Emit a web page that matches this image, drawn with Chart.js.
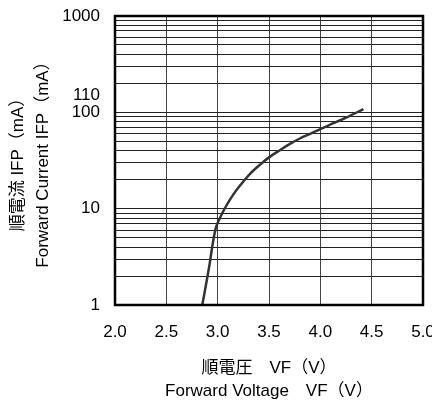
<!DOCTYPE html>
<html>
<head>
<meta charset="utf-8">
<script src="https://cdn.jsdelivr.net/npm/chart.js@4.4.0/dist/chart.umd.min.js"></script>
<style>
  html, body { margin: 0; padding: 0; background: #fff; }
  #wrap { width: 432px; height: 403px; }
</style>
</head>
<body>
<div id="wrap"><canvas id="grafico"></canvas></div>
<script>
// curva VF x IFP
const tensao = [2.85, 2.92, 2.95, 2.98, 3.02, 3.07, 3.15, 3.22, 3.32, 3.41, 3.51, 3.61, 3.70, 3.80, 3.90, 4.00, 4.09, 4.25, 4.42];
const corrente = [1, 2.6, 4.2, 6.2, 7.9, 10.1, 13.9, 17.5, 23.3, 28.5, 34.7, 40.7, 46.7, 53.5, 59.7, 67, 74, 88, 108];

// ticks do eixo y (linhas de grade em 1..9 de cada decada)
const yTicks = [1, 2, 3, 4, 5, 6, 7, 8, 9, 10, 20, 30, 40, 50, 60, 70, 80, 90,
  100, 200, 300, 400, 500, 600, 700, 800, 900, 1000];
const yLabels = { 1: '1', 10: '10', 100: ['110', '100', ''], 1000: '1000' };
const xMin = 2.0, xMax = 5.0, xStep = 0.5;

const fonte = '"Liberation Sans", "Noto Sans CJK JP", sans-serif';
const tituloX = ['順電圧　VF（V）', 'Forward Voltage　VF（V）'];
const tituloY = ['順電流 IFP（mA）', 'Forward Current IFP（mA）'];

// moldura preta em volta da area do grafico
const moldura = {
  id: 'moldura',
  afterDraw(chart) {
    const a = chart.chartArea;
    const ctx = chart.ctx;
    ctx.save();
    ctx.strokeStyle = '#000';
    ctx.lineWidth = 2.5;
    ctx.strokeRect(a.left, a.top, a.right - a.left, a.bottom - a.top);
    ctx.restore();
  }
};

const ctx = document.getElementById('grafico').getContext('2d');
new Chart(ctx, {
  type: 'line',
  data: {
    datasets: [{
      data: tensao.map((v, i) => ({ x: v, y: corrente[i] })),
      borderColor: '#333',
      borderWidth: 2.5,
      pointRadius: 0,
      cubicInterpolationMode: 'monotone',
      fill: false
    }]
  },
  options: {
    responsive: true,
    maintainAspectRatio: false,
    animation: false,
    layout: { padding: { top: 16, right: 9, left: 0, bottom: 0 } },
    plugins: { legend: { display: false }, tooltip: { enabled: false } },
    scales: {
      x: {
        type: 'linear',
        min: xMin,
        max: xMax,
        afterFit: (s) => { s.height = 98; s.paddingLeft = 0; s.paddingRight = 0; },
        afterBuildTicks: (s) => {
          const t = [];
          for (let v = xMin; v <= xMax + 1e-9; v += xStep) t.push({ value: +v.toFixed(2) });
          s.ticks = t;
        },
        grid: { color: '#444', lineWidth: 1, drawTicks: false },
        border: { display: false },
        ticks: {
          autoSkip: false,
          padding: 17,
          color: '#000',
          font: { family: fonte, size: 17 },
          callback: (v) => Number(v).toFixed(1)
        },
        title: {
          display: true,
          text: tituloX,
          color: '#000',
          font: { family: fonte, size: 17, lineHeight: 1.37 },
          padding: { top: 0, bottom: 0 }
        }
      },
      y: {
        type: 'logarithmic',
        min: 1,
        max: 1000,
        afterFit: (s) => { s.width = 115; s.paddingTop = 0; s.paddingBottom = 0; },
        afterBuildTicks: (s) => { s.ticks = yTicks.map(v => ({ value: v })); },
        grid: { color: '#222', lineWidth: 1, drawTicks: false },
        border: { display: false },
        ticks: {
          autoSkip: false,
          padding: 15,
          color: '#000',
          font: { family: fonte, size: 17, lineHeight: 1.0 },
          callback: (v) => yLabels[v] !== undefined ? yLabels[v] : ''
        },
        title: {
          display: true,
          text: tituloY,
          color: '#000',
          font: { family: fonte, size: 17, lineHeight: 1.45 },
          padding: { top: 6, bottom: 0 }
        }
      }
    }
  },
  plugins: [moldura]
});
</script>
</body>
</html>
